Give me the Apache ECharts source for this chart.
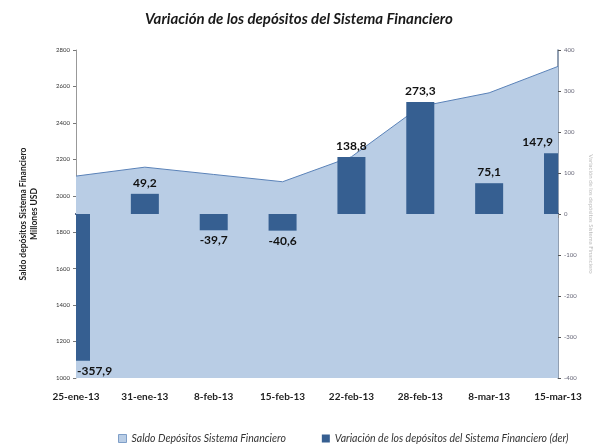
<!DOCTYPE html>
<html>
<head>
<meta charset="utf-8">
<script src="https://cdn.jsdelivr.net/npm/echarts@6/dist/echarts.min.js"></script>
<style>
  html, body { margin: 0; padding: 0; background: #fff; }
  #chart { width: 602px; height: 448px; }
</style>
</head>
<body>
<div id="chart"></div>
<script>
// fechas del eje x
var fechas = ['25-ene-13', '31-ene-13', '8-feb-13', '15-feb-13', '22-feb-13', '28-feb-13', '8-mar-13', '15-mar-13'];
// saldo depositos (eje izq, millones USD)
var saldo = [2108, 2157, 2117, 2077, 2214, 2490, 2565, 2710];
// variacion semanal (eje der)
var variacion = [-357.9, 49.2, -39.7, -40.6, 138.8, 273.3, 75.1, 147.9];

var FONT = "Lato, 'Liberation Sans', sans-serif";
var BAR_COLOR = '#365f91';
var AREA_COLOR = '#b9cde5';

var chart = echarts.init(document.getElementById('chart'));

var barData = variacion.map(function (v, i) { return [i, v]; });

// barras como serie custom para que se recorten en el borde del grid
function renderBar(params, api) {
    var v = api.value(1);
    var base = api.coord([api.value(0), 0]);
    var tip = api.coord([api.value(0), v]);
    var w = 28;
    return {
        type: 'rect',
        shape: {
            x: base[0] - w / 2,
            y: Math.min(base[1], tip[1]),
            width: w,
            height: Math.abs(base[1] - tip[1])
        },
        style: { fill: BAR_COLOR }
    };
}

// etiquetas aparte, sin recorte; se mantienen dentro del area del grafico
function renderLabel(params, api) {
    var v = api.value(1);
    var tip = api.coord([api.value(0), v]);
    var cs = params.coordSys;
    var x = tip[0], align = 'center';
    if (x - 17 < cs.x) { x = cs.x + 1; align = 'left'; }
    else if (x + 17 > cs.x + cs.width) { x = cs.x + cs.width - 5; align = 'right'; }
    return {
        type: 'text',
        x: x,
        y: v < 0 ? tip[1] + 4 : tip[1] - 5,
        style: {
            text: v.toFixed(1).replace('.', ','),
            fontFamily: FONT,
            fontWeight: 'bold',
            fontSize: 12,
            fill: '#111',
            align: align,
            verticalAlign: v < 0 ? 'top' : 'bottom'
        }
    };
}

function plain(v) { return String(v); }

var option = {
    animation: false,
    title: {
        text: 'Variación de los depósitos del Sistema Financiero',
        left: 140,
        top: 7,
        textStyle: {
            fontFamily: FONT,
            fontStyle: 'italic',
            fontWeight: 'bold',
            fontSize: 15,
            color: '#1a1a1a'
        }
    },
    legend: {
        left: 118,
        bottom: 4,
        padding: 0,
        itemWidth: 8,
        itemHeight: 8,
        itemGap: 36,
        textStyle: {
            fontFamily: FONT,
            fontStyle: 'italic',
            fontSize: 10.5,
            color: '#333'
        },
        data: [
            { name: 'Saldo Depósitos Sistema Financiero', icon: 'rect', itemStyle: { color: AREA_COLOR, borderColor: '#7f9fc8', borderWidth: 1 } },
            { name: 'Variación de los depósitos del Sistema Financiero (der)', icon: 'rect', itemStyle: { color: BAR_COLOR } }
        ]
    },
    grid: { left: 76, right: 36, top: 50, bottom: 70 },
    xAxis: {
        type: 'category',
        data: fechas,
        boundaryGap: false,
        axisLine: { lineStyle: { color: '#1f3864', width: 2 } },
        axisTick: { show: true, length: 4, lineStyle: { color: '#888' } },
        axisLabel: {
            interval: 0,
            margin: 14,
            fontFamily: FONT,
            fontWeight: 'bold',
            fontSize: 10,
            color: '#222'
        }
    },
    yAxis: [
        {
            type: 'value',
            min: 1000,
            max: 2800,
            interval: 200,
            name: 'Saldo depósitos Sistema Financiero\nMillones USD',
            nameLocation: 'middle',
            nameGap: 36,
            nameTextStyle: {
                fontFamily: FONT,
                fontWeight: 'bold',
                fontSize: 8.5,
                color: '#222',
                lineHeight: 11
            },
            axisLine: { show: true, lineStyle: { color: '#999' } },
            axisTick: { show: true, length: 3, lineStyle: { color: '#777' } },
            splitLine: { show: false },
            axisLabel: { fontFamily: FONT, fontSize: 6, color: '#333', margin: 6, formatter: plain }
        },
        {
            type: 'value',
            min: -400,
            max: 400,
            interval: 100,
            name: 'Variación de los depósitos Sistema Financiero',
            nameLocation: 'middle',
            nameRotate: -90,
            nameGap: 30,
            nameTextStyle: { fontFamily: FONT, fontSize: 6, color: '#bbb' },
            axisLine: { show: true, lineStyle: { color: '#6d7f99', width: 1.5 } },
            axisTick: { show: true, length: 3, lineStyle: { color: '#555' } },
            splitLine: { show: false },
            axisLabel: { fontFamily: FONT, fontSize: 6, color: '#667', margin: 6, formatter: plain }
        }
    ],
    series: [
        {
            name: 'Saldo Depósitos Sistema Financiero',
            type: 'line',
            yAxisIndex: 0,
            data: saldo,
            symbol: 'none',
            lineStyle: { color: '#5a82b8', width: 1 },
            areaStyle: { color: AREA_COLOR, opacity: 1 },
            itemStyle: { color: AREA_COLOR },
            z: 1
        },
        {
            name: 'Variación de los depósitos del Sistema Financiero (der)',
            type: 'custom',
            yAxisIndex: 1,
            clip: true,
            renderItem: renderBar,
            encode: { x: 0, y: 1 },
            data: barData,
            itemStyle: { color: BAR_COLOR },
            z: 2
        },
        {
            name: 'etiquetas',
            type: 'custom',
            yAxisIndex: 1,
            clip: false,
            renderItem: renderLabel,
            encode: { x: 0, y: 1 },
            data: barData,
            z: 3
        }
    ]
};

chart.setOption(option);
</script>
</body>
</html>
